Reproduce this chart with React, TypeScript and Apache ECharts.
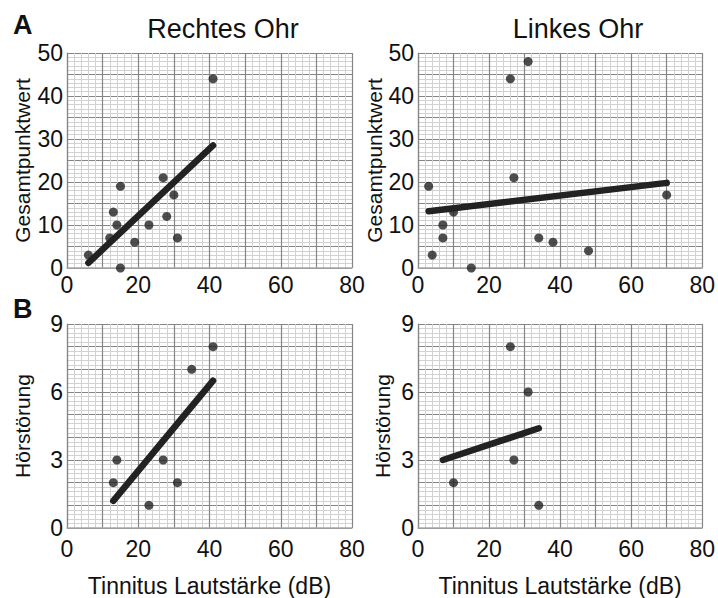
import React, { useEffect, useRef } from "react";
import * as echarts from "echarts";

const panelTitles = ["Rechtes Ohr", "Linkes Ohr"];
const rowLetters = ["A", "B"];
const yNameScore = "Gesamtpunktwert";
const yNameHearing = "Hörstörung";
const xName = "Tinnitus Lautstärke (dB)";

const rightScore = [[6, 3], [12, 7], [13, 13], [14, 10], [15, 19], [15, 0], [19, 6], [23, 10], [27, 21], [28, 12], [30, 17], [31, 7], [41, 44]];
const rightScoreFit = [[6, 1.2], [41, 28.5]];
const leftScore = [[3, 19], [4, 3], [7, 10], [7, 7], [10, 13], [15, 0], [26, 44], [27, 21], [31, 48], [34, 7], [38, 6], [48, 4], [70, 17]];
const leftScoreFit = [[3, 13.2], [70, 19.8]];
const rightHearing = [[13, 2], [14, 3], [23, 1], [27, 3], [31, 2], [35, 7], [41, 8]];
const rightHearingFit = [[13, 1.2], [41, 6.5]];
const leftHearing = [[10, 2], [26, 8], [27, 3], [31, 6], [34, 1]];
const leftHearingFit = [[7, 3], [34, 4.4]];

const FONT = "Liberation Sans, Arial, sans-serif";
const TXT = "#111111";

export default function App() {
  const ref = useRef<HTMLDivElement>(null);
  useEffect(() => {
    if (!ref.current) return;
    const chart = echarts.init(ref.current, null, { renderer: "svg" });
    const grids = [
      { left: 67, top: 53, width: 285, height: 215 },
      { left: 418, top: 53, width: 287, height: 215 },
      { left: 67, top: 324, width: 285, height: 214 },
      { left: 418, top: 324, width: 287, height: 214 },
    ];
    const splitLine = { show: true, lineStyle: { color: "#858585", width: 1.2 } };
    const minorSplitLine = { show: true, lineStyle: { color: "#d2d2d2", width: 1 } };
    const xAxes = grids.map((_, i) => ({
      type: "value",
      gridIndex: i,
      min: 0,
      max: 80,
      interval: 10,
      name: i >= 2 ? xName : "",
      nameLocation: "middle",
      nameGap: 46,
      nameTextStyle: { fontFamily: FONT, fontSize: 23, color: TXT },
      axisLine: { show: true, lineStyle: { color: "#a8a8a8", width: 1.5 } },
      axisTick: { show: false },
      axisLabel: {
        margin: i >= 2 ? 9 : 5,
        fontFamily: FONT,
        fontSize: 23,
        color: TXT,
        formatter: (v: number) => (v % 20 === 0 ? String(v) : ""),
      },
      minorTick: { show: false, splitNumber: 5 },
      splitLine,
      minorSplitLine,
    }));
    const yAxes = grids.map((_, i) => {
      const top = i < 2;
      return {
        type: "value",
        gridIndex: i,
        min: 0,
        max: top ? 50 : 9,
        interval: top ? 5 : 1,
        name: top ? yNameScore : yNameHearing,
        nameLocation: "middle",
        nameGap: i % 2 === 0 ? 34 : 25,
        nameTextStyle: { fontFamily: FONT, fontSize: 21, color: TXT },
        axisLine: { show: true, lineStyle: { color: "#858585", width: 1.2 } },
        axisTick: { show: false },
        axisLabel: {
          margin: 4,
          fontFamily: FONT,
          fontSize: 23,
          color: TXT,
          formatter: (v: number) => (top ? (v % 10 === 0 ? String(v) : "") : v % 3 === 0 ? String(v) : ""),
        },
        minorTick: { show: false, splitNumber: 5 },
        splitLine,
        minorSplitLine,
      };
    });
    const pts = [rightScore, leftScore, rightHearing, leftHearing];
    const fits = [rightScoreFit, leftScoreFit, rightHearingFit, leftHearingFit];
    const series: any[] = [];
    pts.forEach((d, i) => {
      series.push({
        type: "line",
        xAxisIndex: i,
        yAxisIndex: i,
        data: fits[i],
        showSymbol: false,
        lineStyle: { color: "#222222", width: 6.5, cap: "round" },
        z: 3,
      });
      series.push({
        type: "scatter",
        xAxisIndex: i,
        yAxisIndex: i,
        data: d,
        symbolSize: 9,
        itemStyle: { color: "#222222" },
        z: 4,
      });
    });
    chart.setOption({
      animation: false,
      backgroundColor: "#ffffff",
      title: [
        { text: panelTitles[0], left: 218, top: 10, textAlign: "center", textStyle: { fontFamily: FONT, fontSize: 27, fontWeight: "normal", color: TXT } },
        { text: panelTitles[1], left: 573, top: 10, textAlign: "center", textStyle: { fontFamily: FONT, fontSize: 27, fontWeight: "normal", color: TXT } },
        { text: rowLetters[0], left: 8, top: 6, textStyle: { fontFamily: FONT, fontSize: 27, fontWeight: "bold", color: "#111" } },
        { text: rowLetters[1], left: 8, top: 290, textStyle: { fontFamily: FONT, fontSize: 27, fontWeight: "bold", color: "#111" } },
      ],
      grid: grids,
      xAxis: xAxes,
      yAxis: yAxes,
      series,
    });
    return () => chart.dispose();
  }, []);
  return <div ref={ref} style={{ position: "fixed", left: 0, top: 0, width: 718, height: 598 }} />;
}
